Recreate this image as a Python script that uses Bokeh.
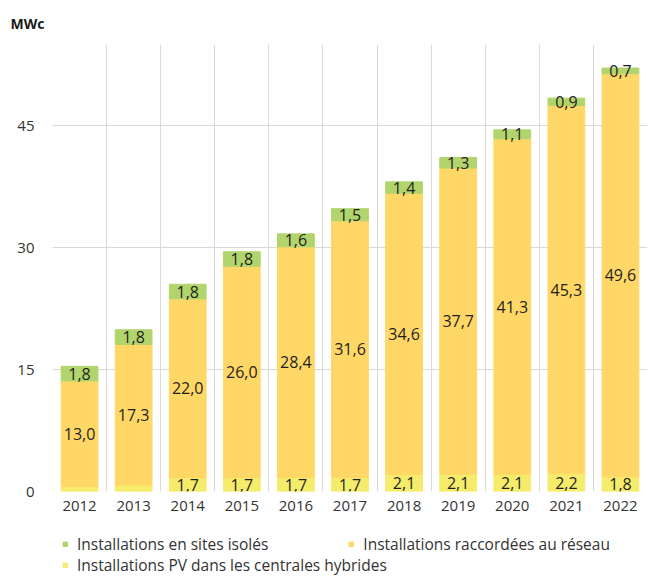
from bokeh.plotting import figure
from bokeh.layouts import column
from bokeh.models import ColumnDataSource, FixedTicker, Legend, LegendItem, Range1d
from bokeh.core.properties import value
from bokeh.embed import file_html
from bokeh.resources import INLINE

years = ["2012", "2013", "2014", "2015", "2016", "2017", "2018", "2019", "2020", "2021", "2022"]
hybrides = [0.6, 0.8, 1.7, 1.7, 1.7, 1.7, 2.1, 2.1, 2.1, 2.2, 1.8]
reseau = [13.0, 17.3, 22.0, 26.0, 28.4, 31.6, 34.6, 37.7, 41.3, 45.3, 49.6]
isoles = [1.8, 1.8, 1.8, 1.8, 1.6, 1.5, 1.4, 1.3, 1.1, 0.9, 0.7]
y_ticks = [0, 15, 30, 45]
series_names = ["Installations en sites isolés",
                "Installations raccordées au réseau",
                "Installations PV dans les centrales hybrides"]

C_HYB = "#F5EC6C"
C_RES = "#FFD766"
C_ISO = "#B2D46C"
FONT = "Open Sans"

def fmt(v):
    return f"{v:.1f}".replace(".", ",")

n = len(years)
x = [i + 0.5 for i in range(n)]
b1 = [0.0] * n
t1 = hybrides
t2 = [h + r for h, r in zip(hybrides, reseau)]
t3 = [a + s for a, s in zip(t2, isoles)]

src = ColumnDataSource(dict(
    x=x, b1=b1, t1=t1, t2=t2, t3=t3,
    m1=[h / 2 for h in hybrides],
    m2=[(a + b) / 2 for a, b in zip(t1, t2)],
    m3=[(a + b) / 2 for a, b in zip(t2, t3)],
    l1=[fmt(v) if v >= 1 else "" for v in hybrides],
    l2=[fmt(v) for v in reseau],
    l3=[fmt(v) for v in isoles],
))

p = figure(width=648, height=520, x_range=(0, n), y_range=(0, 55),
           output_backend="svg", toolbar_location=None,
           min_border_left=52, min_border_right=1, min_border_top=43, min_border_bottom=29)
p.outline_line_color = None
p.background_fill_color = "white"

p.vbar(x="x", bottom="b1", top="t1", width=0.68, color=C_HYB, source=src)
p.vbar(x="x", bottom="t1", top="t2", width=0.68, color=C_RES, source=src)
p.vbar(x="x", bottom="t2", top="t3", width=0.68, color=C_ISO, source=src)

for ycol, lcol in (("m1", "l1"), ("m2", "l2"), ("m3", "l3")):
    p.text(x="x", y=ycol, text=lcol, source=src, text_align="center", text_baseline="middle",
           text_font=value(FONT), text_font_size="16px", text_color="#1f1f1f")

# axes
p.xaxis.ticker = FixedTicker(ticks=x)
p.xaxis.major_label_overrides = {xx: y for xx, y in zip(x, years)}
p.yaxis.ticker = FixedTicker(ticks=y_ticks)
for ax in (p.xaxis[0], p.yaxis[0]):
    ax.axis_line_color = None
    ax.major_tick_line_color = None
    ax.minor_tick_line_color = None
    ax.major_label_text_font = FONT
    ax.major_label_text_font_size = "15px"
    ax.major_label_text_color = "#333333"
p.xaxis.major_label_standoff = 3
p.yaxis.major_label_standoff = 12

p.xgrid.ticker = FixedTicker(ticks=list(range(n + 1)))
p.ygrid.ticker = FixedTicker(ticks=y_ticks)
p.xgrid.grid_line_color = "#D9D9D9"
p.ygrid.grid_line_color = "#D9D9D9"
p.xgrid.level = "underlay"
p.ygrid.level = "underlay"

# title
p.title.text = "MWc"
p.title.align = "left"
p.title.offset = -42
p.title.standoff = 23
p.title.text_font = FONT
p.title.text_font_size = "14px"
p.title.text_font_style = "bold"
p.title.text_color = "#1a1a1a"

# legend figure: same series as hidden renderers, only their legend is shown
q = figure(width=648, height=56, output_backend="svg", toolbar_location=None,
           x_axis_type=None, y_axis_type=None,
           x_range=Range1d(0, n), y_range=Range1d(-2, -1),
           min_border_left=0, min_border_right=0, min_border_top=0, min_border_bottom=0)
q.outline_line_color = None
q.xgrid.visible = False
q.ygrid.visible = False
g_hyb = q.vbar(x="x", bottom="b1", top="t1", width=0.68, color=C_HYB, source=src, visible=False)
g_res = q.vbar(x="x", bottom="t1", top="t2", width=0.68, color=C_RES, source=src, visible=False)
g_iso = q.vbar(x="x", bottom="t2", top="t3", width=0.68, color=C_ISO, source=src, visible=False)

style = dict(orientation="horizontal", padding=0, margin=0, spacing=80,
             glyph_width=6, glyph_height=6, label_standoff=9,
             label_text_font=FONT, label_text_font_size="15.5px", label_text_color="#333333",
             border_line_color=None, background_fill_alpha=0, label_height=18,
             inactive_fill_alpha=0)
leg_a = Legend(items=[LegendItem(label=series_names[0], renderers=[g_iso]),
                      LegendItem(label=series_names[1], renderers=[g_res])],
               location=(10, 21), **style)
leg_b = Legend(items=[LegendItem(label=series_names[2], renderers=[g_hyb])],
               location=(10, 0), **style)
q.add_layout(leg_a, "center")
q.add_layout(leg_b, "center")

open("out.html", "w").write(file_html(column(p, q, spacing=0), INLINE))
